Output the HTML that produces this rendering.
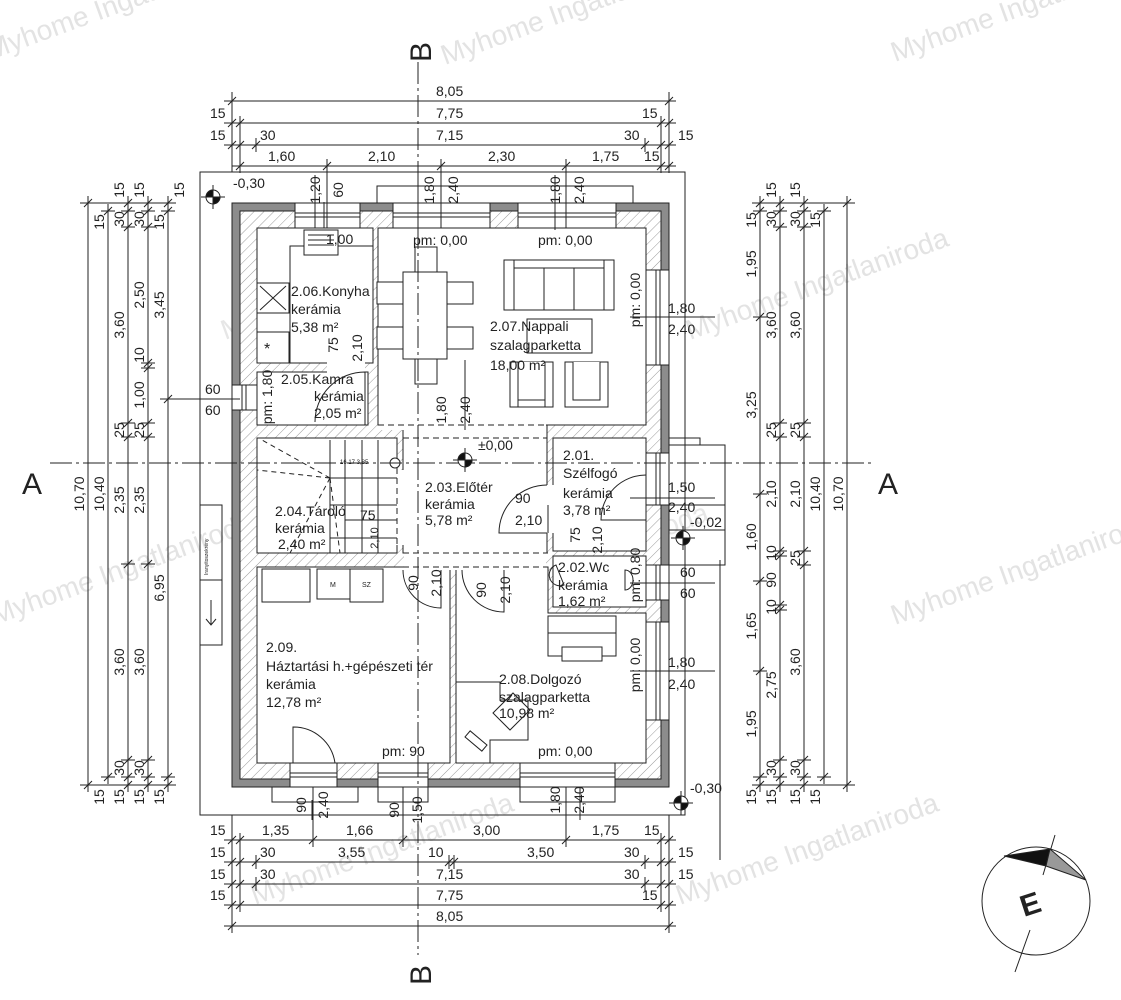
<!DOCTYPE html>
<html><head><meta charset="utf-8"><style>
html,body{margin:0;padding:0;background:#fff}
svg{display:block}
text{font-family:"Liberation Sans",sans-serif;fill:#222;font-size:14px}
</style></head><body>
<svg width="1121" height="1000" viewBox="0 0 1121 1000" xmlns="http://www.w3.org/2000/svg">
<defs>
<pattern id="h" width="7" height="7" patternUnits="userSpaceOnUse" patternTransform="rotate(45)">
<rect width="7" height="7" fill="#fff"/><line x1="0" y1="0" x2="0" y2="7" stroke="#9a9a9a" stroke-width="1"/>
</pattern>
</defs>
<rect width="1121" height="1000" fill="#fff"/>

<!-- watermarks -->
<g>
<text x="-10" y="60" transform="rotate(-20 -10 60)" style="fill:#e3e3e3;font-size:28px">Myhome Ingatlaniroda</text>
<text x="445" y="65" transform="rotate(-20 445 65)" style="fill:#e3e3e3;font-size:28px">Myhome Ingatlaniroda</text>
<text x="895" y="62" transform="rotate(-20 895 62)" style="fill:#e3e3e3;font-size:28px">Myhome Ingatlaniroda</text>
<text x="225" y="340" transform="rotate(-20 225 340)" style="fill:#e6e6e6;font-size:28px">Myhome Ingatlaniroda</text>
<text x="690" y="340" transform="rotate(-20 690 340)" style="fill:#e3e3e3;font-size:28px">Myhome Ingatlaniroda</text>
<text x="-5" y="625" transform="rotate(-20 -5 625)" style="fill:#e3e3e3;font-size:28px">Myhome Ingatlaniroda</text>
<text x="450" y="615" transform="rotate(-20 450 615)" style="fill:#e6e6e6;font-size:28px">Myhome Ingatlaniroda</text>
<text x="895" y="625" transform="rotate(-20 895 625)" style="fill:#e3e3e3;font-size:28px">Myhome Ingatlaniroda</text>
<text x="255" y="905" transform="rotate(-20 255 905)" style="fill:#e3e3e3;font-size:28px">Myhome Ingatlaniroda</text>
<text x="680" y="905" transform="rotate(-20 680 905)" style="fill:#e3e3e3;font-size:28px">Myhome Ingatlaniroda</text>
</g>

<!-- outer site box & canopies -->
<g fill="none" stroke="#222" stroke-width="1">
<rect x="200" y="172" width="485" height="643"/>
<path d="M377 203V186H633V203"/>
<path d="M669 270V438H700V445"/>
<path d="M669 445H725V565H669"/>
<path d="M669 505H725M669 530H725"/>
<path d="M272 787V802H358V787M378 787V802H428V787M520 787V802H615V787"/>
<rect x="200" y="505" width="22" height="75"/>
<rect x="200" y="580" width="22" height="65"/>
<path d="M211 600V625M206 619L211 625L216 619"/>
</g>
<text x="0" y="0" transform="translate(208 575) rotate(-90)" style="font-size:5px">Iranyitoszekrény</text>

<!-- walls -->
<rect x="232" y="203" width="437" height="584" fill="#8c8c8c" stroke="#222"/>
<rect x="240" y="211" width="421" height="568" fill="url(#h)" stroke="#222"/>

<!-- rooms -->
<g fill="#fff" stroke="#222" stroke-width="1">
<rect x="257" y="228" width="116" height="135"/>
<rect x="257" y="372" width="111" height="53"/>
<rect x="378" y="228" width="268" height="197"/>
<rect x="257" y="438" width="140" height="115"/>
<rect x="403" y="425" width="144" height="128"/>
<rect x="553" y="438" width="93" height="113"/>
<rect x="553" y="556" width="93" height="51"/>
<rect x="257" y="567" width="193" height="196"/>
<path d="M456 567H548V613H646V763H456Z"/>
</g>
<g fill="#fff" stroke="none">
<rect x="379" y="420" width="167" height="10"/>
<rect x="404" y="550" width="142" height="20"/>
<rect x="546" y="485" width="9" height="48"/>
<rect x="396" y="470" width="9" height="75"/>
<rect x="327" y="362" width="38" height="12"/>
</g>
<g fill="none" stroke="#222" stroke-dasharray="6 4">
<path d="M378 425H547M403 438H547M403 553H548M403 567H548M397 438V553"/>
</g>

<!-- windows -->
<g fill="#fff" stroke="#222" stroke-width="1">
<rect x="295" y="203" width="65" height="25"/>
<rect x="393" y="203" width="97" height="25"/>
<rect x="518" y="203" width="98" height="25"/>
<rect x="646" y="270" width="23" height="95"/>
<rect x="646" y="453" width="23" height="52"/>
<rect x="646" y="565" width="23" height="35"/>
<rect x="646" y="622" width="23" height="98"/>
<rect x="290" y="763" width="47" height="24"/>
<rect x="378" y="763" width="50" height="24"/>
<rect x="520" y="763" width="95" height="24"/>
<rect x="232" y="385" width="25" height="25"/>
</g>
<g fill="none" stroke="#222" stroke-width="1">
<path d="M295 213H360M295 217H360M393 213H490M393 217H490M518 213H616M518 217H616"/>
<path d="M656 270V365M660 270V365M656 453V505M660 453V505M656 565V600M660 565V600M656 622V720M660 622V720"/>
<path d="M378 773H428M378 777H428M520 773H615M520 777H615M290 773H337M290 777H337"/>
<path d="M242 385V410M246 385V410"/>
</g>

<!-- doors -->
<g fill="none" stroke="#222" stroke-width="1">
<path d="M547 485A48 48 0 0 0 499 533H547"/>
<path d="M646 475A45 45 0 0 0 601 520H646"/>
<path d="M403 570A38 38 0 0 0 441 608V570"/>
<path d="M462 570A42 42 0 0 0 504 612V570"/>
<path d="M293 763V727A42 42 0 0 1 335 763"/>
<path d="M365 372V425M365 372A50 50 0 0 0 315 422"/>
<path d="M548 533V505"/>
</g>

<!-- stairs -->
<g fill="none" stroke="#222" stroke-width="1">
<path d="M330 440V553M345 440V553M362 440V553M378 440V553M330 478H397M330 505H397M345 520H397M330 538H397"/>
<path d="M330 478L262 440M330 478L257 470M330 478L290 553M330 478L340 553" stroke-dasharray="5 4"/>
<circle cx="395" cy="463" r="5" fill="#fff"/>
</g>
<text x="340" y="464" style="font-size:6px">16 17 3,85</text>

<!-- kitchen furniture -->
<g fill="#fff" stroke="#222" stroke-width="1">
<path d="M257 228H373V246H290V363H257Z" fill="none"/>
<rect x="257" y="283" width="32" height="30"/>
<rect x="257" y="332" width="32" height="31"/>
<rect x="304" y="230" width="34" height="25"/>
<path d="M308 235h26M308 240h26M308 245h26"/>
</g>
<text x="264" y="354" style="font-size:16px">*</text>
<path d="M260 286L286 310M286 286L260 310" stroke="#222" fill="none"/>

<!-- dining -->
<g fill="#fff" stroke="#222" stroke-width="1">
<rect x="403" y="272" width="44" height="87"/>
<rect x="415" y="247" width="22" height="25"/>
<rect x="415" y="359" width="22" height="25"/>
<rect x="377" y="282" width="26" height="22"/>
<rect x="377" y="327" width="26" height="22"/>
<rect x="447" y="282" width="26" height="22"/>
<rect x="447" y="327" width="26" height="22"/>
<rect x="504" y="260" width="110" height="50"/>
<path d="M514 260V310M604 260V310M514 268H604M544 268V310M574 268V310"/>
<rect x="527" y="319" width="65" height="34" fill="none"/>
<rect x="510" y="362" width="43" height="45"/>
<path d="M518 362V400H545V362M518 400V407M545 400V407"/>
<rect x="565" y="362" width="43" height="45"/>
<path d="M573 362V400H600V362"/>
</g>

<!-- háztartási furniture -->
<g fill="#fff" stroke="#222" stroke-width="1">
<rect x="262" y="569" width="48" height="33"/>
<rect x="317" y="569" width="33" height="30"/>
<rect x="350" y="569" width="33" height="33"/>
</g>
<text x="330" y="587" style="font-size:7px">M</text>
<text x="362" y="587" style="font-size:7px">SZ</text>

<!-- dolgozó furniture -->
<g fill="#fff" stroke="#222" stroke-width="1">
<rect x="548" y="616" width="68" height="40"/>
<rect x="562" y="647" width="40" height="14"/>
<path d="M548 633H616M456 682H500V700H528V740H490V763" fill="none"/>
<path d="M493 713L513 693L530 710L510 730Z" fill="none"/>
<rect x="465" y="737" width="22" height="8" transform="rotate(40 476 741)"/>
<path d="M556 565a8 8 0 1 0 8 20zM625 570a8 10 0 1 1 0 20z" fill="none"/>
</g>

<!-- section lines -->
<g fill="none" stroke="#222" stroke-width="1" stroke-dasharray="22 4 3 4">
<path d="M418 62V955"/>
<path d="M50 463H875"/>
</g>
<text x="22" y="494" style="font-size:30px">A</text>
<text x="878" y="494" style="font-size:30px">A</text>
<text x="0" y="0" transform="translate(431 62) rotate(-90)" style="font-size:30px">B</text>
<text x="0" y="0" transform="translate(431 985) rotate(-90)" style="font-size:30px">B</text>

<!-- level markers -->
<g stroke="#222" stroke-width="1">
<g transform="translate(213 197)"><path d="M-12 0H12M0 -12V12" fill="none"/><circle r="7" fill="#fff"/><path d="M0 0V-7A7 7 0 0 0 -7 0ZM0 0V7A7 7 0 0 0 7 0Z" fill="#111"/></g>
<g transform="translate(465 460)"><path d="M-12 0H12M0 -12V12" fill="none"/><circle r="7" fill="#fff"/><path d="M0 0V-7A7 7 0 0 0 -7 0ZM0 0V7A7 7 0 0 0 7 0Z" fill="#111"/></g>
<g transform="translate(683 538)"><path d="M-12 0H12M0 -12V12" fill="none"/><circle r="7" fill="#fff"/><path d="M0 0V-7A7 7 0 0 0 -7 0ZM0 0V7A7 7 0 0 0 7 0Z" fill="#111"/></g>
<g transform="translate(681 803)"><path d="M-12 0H12M0 -12V12" fill="none"/><circle r="7" fill="#fff"/><path d="M0 0V-7A7 7 0 0 0 -7 0ZM0 0V7A7 7 0 0 0 7 0Z" fill="#111"/></g>
</g>
<text x="233" y="188">-0,30</text>
<text x="478" y="450">±0,00</text>
<text x="690" y="527">-0,02</text>
<text x="690" y="793">-0,30</text>

<!-- dimension lines -->
<g fill="none" stroke="#222" stroke-width="1">
<path d="M224 101H676M224 123H676M224 145H676M232 166H676"/>
<path d="M232 101m-4 4l8-8m-4-3v14M669 101m-4 4l8-8m-4-3v14"/>
<path d="M232 123m-4 4l8-8m-4-3v14M240 123m-4 4l8-8m-4-3v14M661 123m-4 4l8-8m-4-3v14M669 123m-4 4l8-8m-4-3v14"/>
<path d="M232 145m-4 4l8-8m-4-3v14M240 145m-4 4l8-8m-4-3v14M256 145m-4 4l8-8m-4-3v14M645 145m-4 4l8-8m-4-3v14M661 145m-4 4l8-8m-4-3v14M669 145m-4 4l8-8m-4-3v14"/>
<path d="M240 166m-4 4l8-8m-4-3v14M327 166m-4 4l8-8m-4-3v14M441 166m-4 4l8-8m-4-3v14M566 166m-4 4l8-8m-4-3v14M661 166m-4 4l8-8m-4-3v14M669 166m-4 4l8-8m-4-3v14"/>
<path d="M232 92V172M669 92V172M240 116V172M661 116V172M256 138V152"/>
<path d="M327 160V228M441 160V228M566 160V228"/>
<path d="M224 840H676M224 862H676M224 884H676M224 905H676M224 926H676"/>
<path d="M232 840m-4 4l8-8m-4-3v14M240 840m-4 4l8-8m-4-3v14M313 840m-4 4l8-8m-4-3v14M403 840m-4 4l8-8m-4-3v14M566 840m-4 4l8-8m-4-3v14M661 840m-4 4l8-8m-4-3v14M669 840m-4 4l8-8m-4-3v14"/>
<path d="M232 862m-4 4l8-8m-4-3v14M240 862m-4 4l8-8m-4-3v14M256 862m-4 4l8-8m-4-3v14M449 862m-4 4l8-8m-4-3v14M454 862m-4 4l8-8m-4-3v14M645 862m-4 4l8-8m-4-3v14M661 862m-4 4l8-8m-4-3v14M669 862m-4 4l8-8m-4-3v14"/>
<path d="M232 884m-4 4l8-8m-4-3v14M240 884m-4 4l8-8m-4-3v14M256 884m-4 4l8-8m-4-3v14M645 884m-4 4l8-8m-4-3v14M661 884m-4 4l8-8m-4-3v14M669 884m-4 4l8-8m-4-3v14"/>
<path d="M232 905m-4 4l8-8m-4-3v14M240 905m-4 4l8-8m-4-3v14M661 905m-4 4l8-8m-4-3v14M669 905m-4 4l8-8m-4-3v14"/>
<path d="M232 926m-4 4l8-8m-4-3v14M669 926m-4 4l8-8m-4-3v14"/>
<path d="M232 815V933M669 815V933M240 833V912M661 833V912"/>
<path d="M313 787V846M566 787V846M403 787V846M720 560V860"/>
<path d="M88 196V792M108 204V784M128 196V792M148 196V792M168 196V792"/>
<path d="M88 203m-4 4l8-8m-11 4h14M88 785m-4 4l8-8m-11 4h14"/>
<path d="M108 211m-4 4l8-8m-11 4h14M108 777m-4 4l8-8m-11 4h14"/>
<path d="M128 203m-4 4l8-8m-11 4h14M128 211m-4 4l8-8m-11 4h14M128 227m-4 4l8-8m-11 4h14M128 423m-4 4l8-8m-11 4h14M128 437m-4 4l8-8m-11 4h14M128 564m-4 4l8-8m-11 4h14M128 760m-4 4l8-8m-11 4h14M128 777m-4 4l8-8m-11 4h14M128 785m-4 4l8-8m-11 4h14"/>
<path d="M148 203m-4 4l8-8m-11 4h14M148 211m-4 4l8-8m-11 4h14M148 227m-4 4l8-8m-11 4h14M148 363m-4 4l8-8m-11 4h14M148 368m-4 4l8-8m-11 4h14M148 423m-4 4l8-8m-11 4h14M148 437m-4 4l8-8m-11 4h14M148 564m-4 4l8-8m-11 4h14M148 760m-4 4l8-8m-11 4h14M148 777m-4 4l8-8m-11 4h14M148 785m-4 4l8-8m-11 4h14"/>
<path d="M168 203m-4 4l8-8m-11 4h14M168 211m-4 4l8-8m-11 4h14M168 399m-4 4l8-8m-11 4h14M168 777m-4 4l8-8m-11 4h14M168 785m-4 4l8-8m-11 4h14"/>
<path d="M80 203H176M80 785H176M160 399H240"/>
<path d="M760 196V792M780 196V792M804 196V792M824 204V784M847 196V792"/>
<path d="M760 203m-4 4l8-8m-11 4h14M760 211m-4 4l8-8m-11 4h14M760 317m-4 4l8-8m-11 4h14M760 494m-4 4l8-8m-11 4h14M760 581m-4 4l8-8m-11 4h14M760 671m-4 4l8-8m-11 4h14M760 777m-4 4l8-8m-11 4h14M760 785m-4 4l8-8m-11 4h14"/>
<path d="M780 203m-4 4l8-8m-11 4h14M780 211m-4 4l8-8m-11 4h14M780 227m-4 4l8-8m-11 4h14M780 423m-4 4l8-8m-11 4h14M780 437m-4 4l8-8m-11 4h14M780 551m-4 4l8-8m-11 4h14M780 556m-4 4l8-8m-11 4h14M780 605m-4 4l8-8m-11 4h14M780 610m-4 4l8-8m-11 4h14M780 760m-4 4l8-8m-11 4h14M780 777m-4 4l8-8m-11 4h14M780 785m-4 4l8-8m-11 4h14"/>
<path d="M804 203m-4 4l8-8m-11 4h14M804 211m-4 4l8-8m-11 4h14M804 227m-4 4l8-8m-11 4h14M804 423m-4 4l8-8m-11 4h14M804 437m-4 4l8-8m-11 4h14M804 551m-4 4l8-8m-11 4h14M804 565m-4 4l8-8m-11 4h14M804 760m-4 4l8-8m-11 4h14M804 777m-4 4l8-8m-11 4h14M804 785m-4 4l8-8m-11 4h14"/>
<path d="M824 211m-4 4l8-8m-11 4h14M824 777m-4 4l8-8m-11 4h14M847 203m-4 4l8-8m-11 4h14M847 785m-4 4l8-8m-11 4h14"/>
<path d="M752 203H855M752 785H855"/>
<path d="M630 317H715M630 498H715M630 583H715M630 671H715"/>
<path d="M418 230V175M555 230V175M315 228V175M324 202V228"/>
<path d="M465 360V430M312 800V820M580 787V820"/>
</g>

<!-- top dim text -->
<text x="436" y="96">8,05</text>
<text x="210" y="118">15</text><text x="436" y="118">7,75</text><text x="642" y="118">15</text>
<text x="210" y="140">15</text><text x="260" y="140">30</text><text x="436" y="140">7,15</text><text x="624" y="140">30</text><text x="678" y="140">15</text>
<text x="268" y="161">1,60</text><text x="368" y="161">2,10</text><text x="488" y="161">2,30</text><text x="592" y="161">1,75</text><text x="644" y="161">15</text>
<text x="210" y="835">15</text><text x="262" y="835">1,35</text><text x="346" y="835">1,66</text><text x="473" y="835">3,00</text><text x="592" y="835">1,75</text><text x="644" y="835">15</text>
<text x="210" y="857">15</text><text x="260" y="857">30</text><text x="338" y="857">3,55</text><text x="428" y="857">10</text><text x="527" y="857">3,50</text><text x="624" y="857">30</text><text x="678" y="857">15</text>
<text x="210" y="879">15</text><text x="260" y="879">30</text><text x="436" y="879">7,15</text><text x="624" y="879">30</text><text x="678" y="879">15</text>
<text x="210" y="900">15</text><text x="436" y="900">7,75</text><text x="642" y="900">15</text>
<text x="436" y="921">8,05</text>

<g text-anchor="middle">
<text transform="translate(84 494) rotate(-90)">10,70</text>
<text transform="translate(104 494) rotate(-90)">10,40</text>
<text transform="translate(104 222) rotate(-90)">15</text>
<text transform="translate(104 797) rotate(-90)">15</text>
<text transform="translate(124 190) rotate(-90)">15</text>
<text transform="translate(124 219) rotate(-90)">30</text>
<text transform="translate(124 325) rotate(-90)">3,60</text>
<text transform="translate(124 430) rotate(-90)">25</text>
<text transform="translate(124 500) rotate(-90)">2,35</text>
<text transform="translate(124 662) rotate(-90)">3,60</text>
<text transform="translate(124 768) rotate(-90)">30</text>
<text transform="translate(124 797) rotate(-90)">15</text>
<text transform="translate(144 190) rotate(-90)">15</text>
<text transform="translate(144 219) rotate(-90)">30</text>
<text transform="translate(144 295) rotate(-90)">2,50</text>
<text transform="translate(144 355) rotate(-90)">10</text>
<text transform="translate(144 395) rotate(-90)">1,00</text>
<text transform="translate(144 430) rotate(-90)">25</text>
<text transform="translate(144 500) rotate(-90)">2,35</text>
<text transform="translate(144 662) rotate(-90)">3,60</text>
<text transform="translate(144 768) rotate(-90)">30</text>
<text transform="translate(144 797) rotate(-90)">15</text>
<text transform="translate(164 222) rotate(-90)">15</text>
<text transform="translate(164 305) rotate(-90)">3,45</text>
<text transform="translate(164 588) rotate(-90)">6,95</text>
<text transform="translate(164 797) rotate(-90)">15</text>
<text transform="translate(184 190) rotate(-90)">15</text>

<text transform="translate(756 220) rotate(-90)">15</text>
<text transform="translate(756 264) rotate(-90)">1,95</text>
<text transform="translate(756 405) rotate(-90)">3,25</text>
<text transform="translate(756 537) rotate(-90)">1,60</text>
<text transform="translate(756 626) rotate(-90)">1,65</text>
<text transform="translate(756 724) rotate(-90)">1,95</text>
<text transform="translate(756 797) rotate(-90)">15</text>
<text transform="translate(776 190) rotate(-90)">15</text>
<text transform="translate(776 219) rotate(-90)">30</text>
<text transform="translate(776 325) rotate(-90)">3,60</text>
<text transform="translate(776 430) rotate(-90)">25</text>
<text transform="translate(776 494) rotate(-90)">2,10</text>
<text transform="translate(776 553) rotate(-90)">10</text>
<text transform="translate(776 580) rotate(-90)">90</text>
<text transform="translate(776 607) rotate(-90)">10</text>
<text transform="translate(776 685) rotate(-90)">2,75</text>
<text transform="translate(776 768) rotate(-90)">30</text>
<text transform="translate(776 797) rotate(-90)">15</text>
<text transform="translate(800 190) rotate(-90)">15</text>
<text transform="translate(800 219) rotate(-90)">30</text>
<text transform="translate(800 325) rotate(-90)">3,60</text>
<text transform="translate(800 430) rotate(-90)">25</text>
<text transform="translate(800 494) rotate(-90)">2,10</text>
<text transform="translate(800 558) rotate(-90)">25</text>
<text transform="translate(800 662) rotate(-90)">3,60</text>
<text transform="translate(800 768) rotate(-90)">30</text>
<text transform="translate(800 797) rotate(-90)">15</text>
<text transform="translate(820 220) rotate(-90)">15</text>
<text transform="translate(820 494) rotate(-90)">10,40</text>
<text transform="translate(820 797) rotate(-90)">15</text>
<text transform="translate(843 494) rotate(-90)">10,70</text>

<text transform="translate(320 190) rotate(-90)">1,20</text>
<text transform="translate(343 190) rotate(-90)">60</text>
<text transform="translate(434 190) rotate(-90)">1,80</text>
<text transform="translate(458 190) rotate(-90)">2,40</text>
<text transform="translate(560 190) rotate(-90)">1,80</text>
<text transform="translate(584 190) rotate(-90)">2,40</text>
<text transform="translate(338 345) rotate(-90)">75</text>
<text transform="translate(362 348) rotate(-90)">2,10</text>
<text transform="translate(272 397) rotate(-90)">pm: 1,80</text>
<text transform="translate(446 410) rotate(-90)">1,80</text>
<text transform="translate(470 410) rotate(-90)">2,40</text>
<text transform="translate(640 300) rotate(-90)">pm: 0,00</text>
<text transform="translate(640 665) rotate(-90)">pm: 0,00</text>
<text transform="translate(640 575) rotate(-90)">pm: 0,80</text>
<text transform="translate(580 535) rotate(-90)">75</text>
<text transform="translate(602 540) rotate(-90)">2,10</text>
<text transform="translate(418 583) rotate(-90)">90</text>
<text transform="translate(441 583) rotate(-90)">2,10</text>
<text transform="translate(486 590) rotate(-90)">90</text>
<text transform="translate(510 590) rotate(-90)">2,10</text>
<text transform="translate(306 805) rotate(-90)">90</text>
<text transform="translate(328 805) rotate(-90)">2,40</text>
<text transform="translate(399 810) rotate(-90)">90</text>
<text transform="translate(422 810) rotate(-90)">1,50</text>
<text transform="translate(560 800) rotate(-90)">1,80</text>
<text transform="translate(584 800) rotate(-90)">2,40</text>
<text transform="translate(378 538) rotate(-90)" style="font-size:11px">2,10</text>
</g>

<text x="668" y="313">1,80</text><text x="668" y="334">2,40</text>
<text x="668" y="492">1,50</text><text x="668" y="512">2,40</text>
<text x="680" y="577">60</text><text x="680" y="598">60</text>
<text x="668" y="667">1,80</text><text x="668" y="689">2,40</text>
<text x="205" y="394">60</text><text x="205" y="415">60</text>
<text x="515" y="503">90</text><text x="515" y="525">2,10</text>
<text x="360" y="520">75</text>

<g style="font-size:14.5px">
<text x="413" y="245">pm: 0,00</text>
<text x="538" y="245">pm: 0,00</text>
<text x="326" y="244">1,00</text>
<text x="291" y="296">2.06.Konyha</text>
<text x="291" y="314">kerámia</text>
<text x="291" y="332">5,38 m²</text>
<text x="281" y="384">2.05.Kamra</text>
<text x="314" y="401">kerámia</text>
<text x="314" y="418">2,05 m²</text>
<text x="490" y="331">2.07.Nappali</text>
<text x="490" y="350">szalagparketta</text>
<text x="490" y="370">18,00 m²</text>
<text x="425" y="492">2.03.Előtér</text>
<text x="425" y="509">kerámia</text>
<text x="425" y="525">5,78 m²</text>
<text x="275" y="516">2.04.Tároló</text>
<text x="275" y="533">kerámia</text>
<text x="278" y="549">2,40 m²</text>
<text x="563" y="460">2.01.</text>
<text x="563" y="478">Szélfogó</text>
<text x="563" y="498">kerámia</text>
<text x="563" y="515">3,78 m²</text>
<text x="558" y="572">2.02.Wc</text>
<text x="558" y="590">kerámia</text>
<text x="558" y="606">1,62 m²</text>
<text x="266" y="652">2.09.</text>
<text x="266" y="671">Háztartási h.+gépészeti tér</text>
<text x="266" y="689">kerámia</text>
<text x="266" y="707">12,78 m²</text>
<text x="499" y="684">2.08.Dolgozó</text>
<text x="499" y="702">szalagparketta</text>
<text x="499" y="718">10,98 m²</text>
<text x="382" y="756">pm: 90</text>
<text x="538" y="756">pm: 0,00</text>
</g>

<!-- compass -->
<g stroke="#222" stroke-width="1">
<circle cx="1036" cy="901" r="54" fill="none"/>
<path d="M1055 835L1043 875M1030 930L1015 972" fill="none"/>
<path d="M1004 856L1050 849L1046 866Z" fill="#111"/>
<path d="M1050 849L1086 880L1046 866Z" fill="#999"/>
</g>
<text x="0" y="0" transform="translate(1024 917) rotate(-18)" style="font-size:30px;font-weight:bold">E</text>
</svg>
</body></html>
